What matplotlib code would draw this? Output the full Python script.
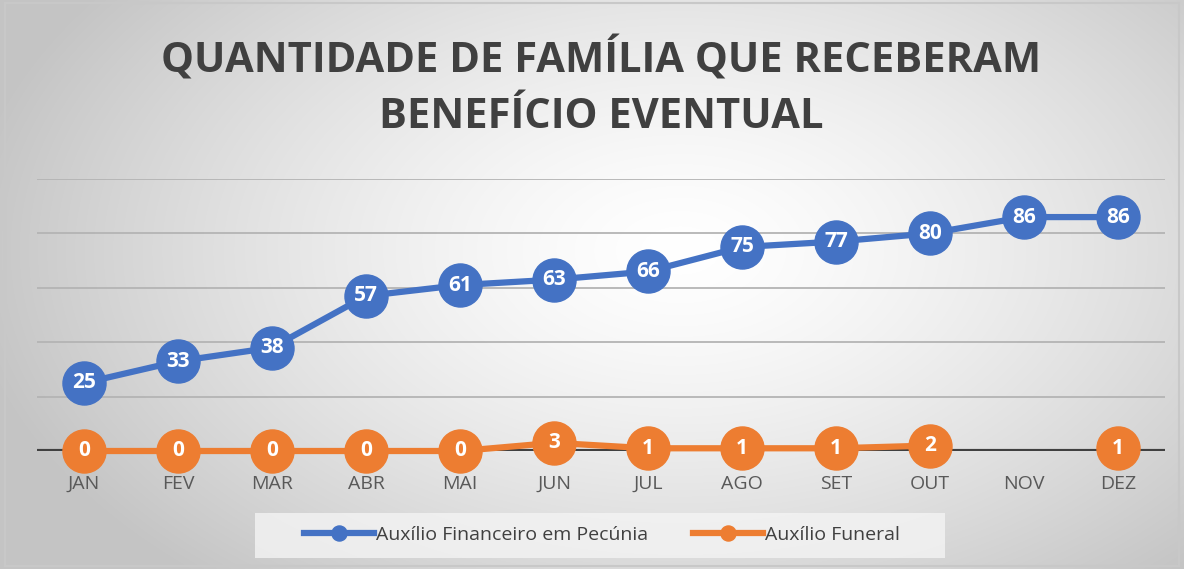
import matplotlib.pyplot as plt
import numpy as np
from matplotlib.patches import Rectangle

meses = ['JAN', 'FEV', 'MAR', 'ABR', 'MAI', 'JUN', 'JUL', 'AGO', 'SET', 'OUT', 'NOV', 'DEZ']
pecunia = [25, 33, 38, 57, 61, 63, 66, 75, 77, 80, 86, 86]
funeral = [0, 0, 0, 0, 0, 3, 1, 1, 1, 2, None, 1]

azul = '#4472C4'
laranja = '#ED7D31'

plt.rcParams['font.family'] = ['Open Sans', 'DejaVu Sans']

fig = plt.figure(figsize=(11.84, 5.69), dpi=100)

# fundo com gradiente radial
bg = fig.add_axes([0, 0, 1, 1])
W, H = 1184, 569
xx, yy = np.meshgrid(np.arange(W), np.arange(H))
r = np.sqrt(((xx - 680) / 720.0) ** 2 + ((yy - 250) / 440.0) ** 2)
v = 1.0 - 0.23 * np.clip(r, 0, 1) ** 1.4
img = np.dstack([v, v, v])
bg.imshow(img, aspect='auto', extent=[0, 1, 0, 1])
bg.set_xlim(0, 1)
bg.set_ylim(0, 1)
bg.axis('off')
bg.add_patch(Rectangle((0.004, 0.006), 0.992, 0.988, fill=False, ec='#c8c8c8', lw=1.5))
# caixa da legenda
bg.add_patch(Rectangle((255 / W, 1 - 558 / H), 690 / W, 45 / H, fc='#f4f4f4', ec='none', alpha=0.8))

fig.text(0.508, 1 - 60 / H, 'QUANTIDADE DE FAMÍLIA QUE RECEBERAM', ha='center', va='center',
         fontsize=30, fontweight='bold', color='#404040')
fig.text(0.508, 1 - 117 / H, 'BENEFÍCIO EVENTUAL', ha='center', va='center',
         fontsize=30, fontweight='bold', color='#404040')

ax = fig.add_axes([37 / W, 1 - 451 / H, 1128 / W, 272 / H])
ax.patch.set_alpha(0)
x = np.arange(len(meses))
ax.set_xlim(-0.5, len(meses) - 0.5)
ax.set_ylim(0, 100)
for g in [20, 40, 60, 80, 100]:
    ax.axhline(g, color='#b4b4b4', lw=1.3, zorder=1)
ax.axhline(0, color='#404040', lw=3, zorder=2)

ax.plot(x, pecunia, color=azul, lw=4.5, marker='o', ms=31, zorder=3, clip_on=False,
        label='Auxílio Financeiro em Pecúnia')
f = np.array([np.nan if v is None else v for v in funeral], dtype=float)
ax.plot(x, f, color=laranja, lw=4.5, marker='o', ms=31, zorder=3, clip_on=False,
        label='Auxílio Funeral')

for i in range(len(meses)):
    ax.text(x[i], pecunia[i], str(pecunia[i]), ha='center', va='center', color='white',
            fontsize=15, fontweight='bold', zorder=5)
    if funeral[i] is not None:
        ax.text(x[i], funeral[i], str(funeral[i]), ha='center', va='center', color='white',
                fontsize=15, fontweight='bold', zorder=5)

for s in ax.spines.values():
    s.set_visible(False)
ax.set_yticks([])
ax.set_xticks(x)
ax.set_xticklabels(meses, fontsize=14, color='#595959')
ax.tick_params(axis='x', length=0, pad=17)

leg = fig.legend(loc='center', bbox_to_anchor=(602 / W, 1 - 535 / H), ncol=2, frameon=False,
                 fontsize=14, handlelength=3.6, handletextpad=0.1, columnspacing=2.3,
                 markerscale=0.35, labelcolor='#404040')

fig.savefig('out.png', dpi=100)
